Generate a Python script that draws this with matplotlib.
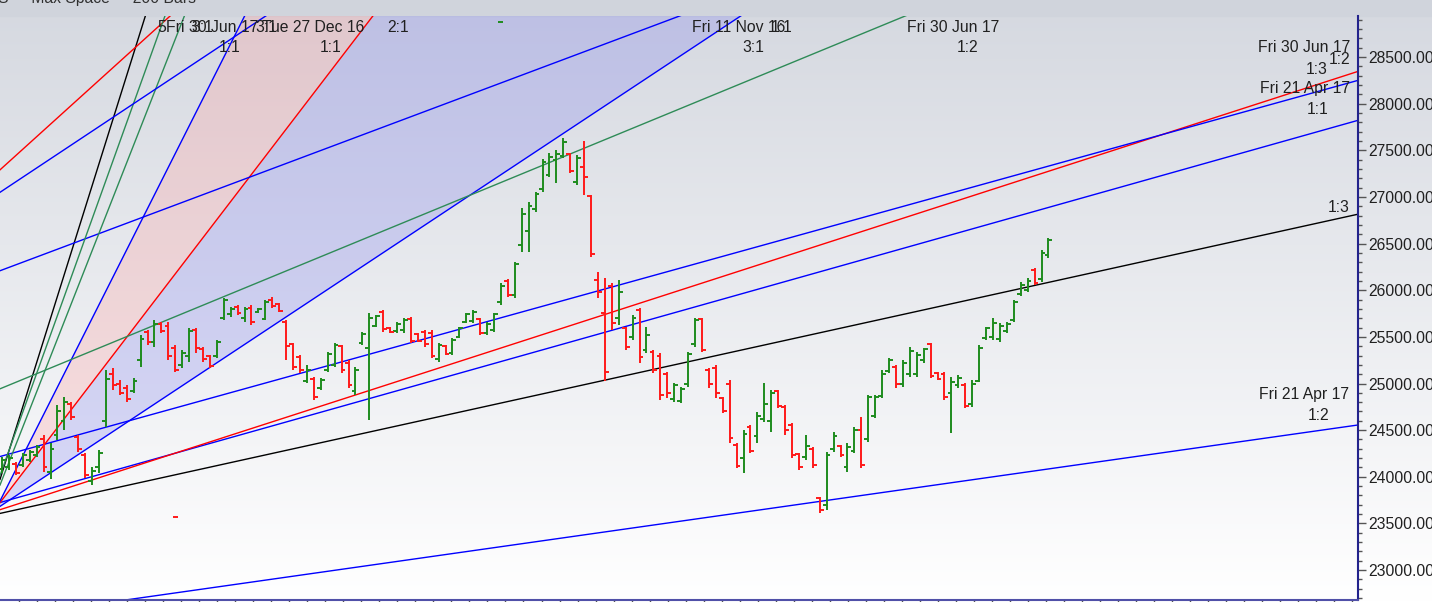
import numpy as np
import matplotlib.pyplot as plt
from matplotlib.patches import Rectangle
from matplotlib.ticker import MultipleLocator, FormatStrFormatter

plt.rcParams['font.family'] = ['Liberation Sans', 'DejaVu Sans']

# daily OHLC bars, oldest first
opens = [24080, 24100, 24140, 24130, 24180, 24230, 24400, 24050, 24450, 24600, 24780, 24430, 24230, 23960, 24100,
         24600, 25100, 25000, 24950, 24920, 25250, 25550, 25450, 25640, 25620, 25380, 25200, 25300, 25570, 25370,
         25290, 25300, 25700, 25740, 25820, 25700, 25810, 25770, 25690, 25900, 25850, 25660, 25420, 25280, 25030, 25050,
         24950, 25150, 25200, 25400, 25220, 24920, 25430, 25380, 25620, 25770, 25600, 25560, 25570, 25690, 25530,
         25550, 25540, 25260, 25400, 25330, 25500, 25660, 25670, 25690, 25540, 25570, 25870, 26100, 25950,
         26480, 26640, 26870, 27080, 27240, 27400, 27440, 27460, 27160, 27320, 27010, 26110, 25760, 26050, 25700,
         25590, 25500, 25790, 25360, 25340, 25300, 25100, 24830,
         24810, 25000, 25420, 25690, 25150, 25170, 24840, 25000, 24340, 24200, 24530, 24440, 24620, 24600, 24920,
         24750, 24550, 24240, 24210, 24300, 23770, 23700, 24300, 24330, 24100, 24280, 24500, 24400, 24650, 24870,
         25130, 25180, 25000, 25100, 25100, 25250, 25420, 25110, 25100, 24900, 24980, 24980, 24780, 25030, 25490,
         25500, 25480, 25560, 25680, 25960, 26000, 26220, 26120, 26380]
highs = [24212, 24233, 24158, 24255, 24287, 24341, 24448, 24362, 24769, 24855, 24801, 24448, 24255, 24105, 24287,
         25145, 25166, 25037, 24984, 25059, 25520, 25573, 25681, 25659, 25659, 25413, 25359, 25595, 25595, 25391,
         25305, 25466, 25917, 25820, 25841, 25820, 25841, 25809, 25894, 25927, 25862, 25681, 25434, 25305, 25198, 25069,
         25059, 25338, 25434, 25413, 25252, 25177, 25552, 25756, 25734, 25788, 25606, 25659, 25702, 25713, 25541,
         25573, 25573, 25434, 25413, 25488, 25606, 25756, 25788, 25702, 25659, 25756, 26077, 26120, 26302,
         26881, 26946, 27053, 27407, 27471, 27503, 27632, 27471, 27449, 27600, 27021, 26195, 26131, 26077, 26109,
         25606, 25734, 25809, 25606, 25359, 25327, 25123, 25005,
         24962, 25338, 25702, 25702, 25166, 25198, 24855, 25037, 24362, 24501, 24555, 24694, 25005, 24930, 24930,
         24769, 24576, 24255, 24448, 24319, 23783, 24266, 24480, 24341, 24362, 24534, 24641, 24877, 24877, 25145,
         25273, 25198, 25252, 25391, 25338, 25380, 25434, 25123, 25123, 25069, 25091, 25005, 25037, 25413, 25606,
         25702, 25648, 25659, 25894, 26088, 26131, 26238, 26432, 26560]
lows = [24040, 24072, 24019, 24105, 24158, 24212, 24051, 23976, 24394, 24501, 24609, 24266, 23987, 23912, 24040,
        24534, 24930, 24877, 24801, 24898, 25177, 25413, 25391, 25541, 25252, 25123, 25166, 25230, 25327, 25230,
        25166, 25273, 25681, 25713, 25734, 25659, 25627, 25755, 25681, 25809, 25766, 25252, 25145, 25112, 25005, 24823,
        24930, 25123, 25177, 25112, 24952, 24877, 25413, 24609, 25606, 25552, 25541, 25541, 25541, 25434, 25445,
        25391, 25273, 25230, 25305, 25305, 25488, 25648, 25648, 25520, 25520, 25552, 25841, 25927, 25917,
        26410, 26410, 26838, 27053, 27214, 27149, 27417, 27257, 27128, 27021, 26356, 25917, 25027, 25573, 25627,
        25359, 25466, 25220, 25327, 25112, 24823, 24844, 24801,
        24791, 24962, 25391, 25338, 24952, 24844, 24684, 24362, 24094, 24040, 24255, 24362, 24587, 24480, 24737,
        24448, 24201, 24073, 24180, 24094, 23612, 23644, 24266, 24212, 24051, 24255, 24094, 24373, 24630, 24845,
        25112, 24952, 24962, 25069, 25069, 25220, 25059, 25037, 24823, 24469, 24952, 24737, 24748, 25016, 25466,
        25466, 25445, 25541, 25659, 25938, 25981, 26056, 26088, 26345]
closes = [24180, 24200, 24040, 24230, 24270, 24320, 24100, 24300, 24700, 24800, 24640, 24300, 24020, 24060, 24250,
          25050, 24980, 24900, 24830, 25030, 25480, 25440, 25640, 25560, 25300, 25150, 25330, 25560, 25380, 25260,
          25190, 25440, 25900, 25800, 25760, 25800, 25660, 25800, 25870, 25830, 25780, 25400, 25180, 25140, 25150, 24850,
          25040, 25320, 25410, 25140, 24980, 25150, 25530, 25700, 25720, 25580, 25550, 25640, 25680, 25460, 25460,
          25420, 25300, 25410, 25320, 25470, 25590, 25740, 25770, 25540, 25640, 25740, 26050, 25950, 26280,
          26820, 26900, 27030, 27380, 27430, 27460, 27590, 27280, 27420, 27210, 26390, 25980, 25120, 25650, 25980,
          25390, 25700, 25280, 25520, 25150, 24880, 24900, 24980,
          24940, 25320, 25680, 25360, 25000, 24900, 24700, 24420, 24120, 24460, 24280, 24650, 24780, 24900, 24760,
          24500, 24230, 24100, 24330, 24130, 23640, 24230, 24440, 24230, 24320, 24500, 24130, 24850, 24860, 25100,
          25250, 24990, 25220, 25350, 25310, 25370, 25080, 25050, 24850, 25020, 25060, 24760, 25000, 25380, 25590,
          25650, 25620, 25640, 25870, 26060, 26100, 26080, 26400, 26540]

# gann fan lines: price at bar 0 and rise in points per bar
fan_start = [23612, 23730, 23654, 24223, 22491, 23697, 23751, 23783, 24040, 27310, 26217, 24952, 23966, 24073, 27064]
fan_slope = [16.37, 20.91, 23.98, 20.58, 10.55, 49.19, 96.97, 147.3, 236.9, 67.2, 27.85, 30.6, 189.0, 207.0, 49.3]
fan_color = ['black', 'blue', 'red', 'blue', 'blue', 'blue', 'red', 'blue', 'black', 'red', 'blue',
             'seagreen', 'seagreen', 'seagreen', 'blue']

W, H = 1432, 602
fig = plt.figure(figsize=(W / 100, H / 100), dpi=100)

# background gradient + header band
bg = fig.add_axes([0, 0, 1, 1], zorder=-2)
top = np.array([0.835, 0.848, 0.878])
grad = np.linspace(0, 1, 256)[:, None, None] * (1 - top) + top
bg.imshow(grad, aspect='auto', extent=[0, 1, 0, 1])
bg.add_patch(Rectangle((0, 1 - 16 / H), 1, 16 / H, color='#d0d4dc', transform=bg.transAxes))
bg.set_xlim(0, 1)
bg.set_ylim(0, 1)
bg.axis('off')

ax = fig.add_axes([0, 2 / H, 1358 / W, 584 / H])
ax.set_facecolor('none')
px_bar = 6.93
x_left, x_right = -2 / px_bar, 1356 / px_bar
ax.set_xlim(x_left, x_right)
ax.set_ylim(22679, 28940)

bars = np.arange(len(opens))
cols = ['#1e8c1e' if c >= o else '#ff1a1a' for o, c in zip(opens, closes)]

# shaded zones between fan lines
xs = np.array([x_left, x_right])
line = lambda k: fan_start[k] + fan_slope[k] * xs
ax.fill_between(xs, line(5), line(6), color=(0.47, 0.47, 0.94), alpha=0.25, lw=0, zorder=1)
ax.fill_between(xs, line(6), line(7), color=(1.0, 0.59, 0.59), alpha=0.26, lw=0, zorder=1)

for k in range(len(fan_start)):
    ax.plot(xs, line(k), color=fan_color[k], lw=1.0, zorder=2)

ax.vlines(bars, lows, highs, colors=cols, lw=1.4, zorder=3)
ax.hlines(opens, bars - 0.55, bars, colors=cols, lw=1.4, zorder=3)
ax.hlines(closes, bars, bars + 0.55, colors=cols, lw=1.4, zorder=3)

# little anchor dashes
ax.hlines([28875], [71.6], [72.3], colors='#1e8c1e', lw=1.4)
ax.hlines([23569], [24.7], [25.4], colors='#ff1a1a', lw=1.4)

# fan labels
fs = 11.3
labels = [("5", 157, 27, 'left'), ("Fri 30 Jun 17", 166, 27, 'left'), ("3:1", 191, 27, 'left'),
          ("3:1", 255, 27, 'left'), ("Tue 27 Dec 16", 262, 27, 'left'), ("2:1", 387, 27, 'left'),
          ("1:1", 219, 47, 'left'), ("1:1", 320, 47, 'left'),
          ("Fri 11 Nov 16", 692, 27, 'left'), ("1:1", 771, 27, 'left'), ("3:1", 742, 47, 'left'),
          ("Fri 30 Jun 17", 907, 27, 'left'), ("1:2", 957, 47, 'left'),
          ("Fri 30 Jun 17", 1350, 48, 'right'), ("1:2", 1350, 60, 'right'), ("1:3", 1328, 69, 'right'),
          ("Fri 21 Apr 17", 1350, 89, 'right'), ("1:1", 1328, 109, 'right'), ("1:3", 1350, 207, 'right'),
          ("Fri 21 Apr 17", 1349, 395, 'right'), ("1:2", 1329, 416, 'right')]
for s, x, y, ha in labels:
    fig.text(x / W, 1 - y / H, s, ha=ha, va='center', fontsize=fs, color='#202020')

fig.text(-2 / W, 1 - 3 / H, "S  -  Max Space  -  200 Bars", ha='left', va='baseline',
         fontsize=fs, color='#303030')

# axes look
ax.spines['left'].set_visible(False)
ax.spines['top'].set_visible(False)
ax.spines['right'].set_color('#23238c')
ax.spines['right'].set_linewidth(1.5)
ax.spines['bottom'].set_color('#5050a8')
ax.spines['bottom'].set_linewidth(1.5)
ax.yaxis.tick_right()
ax.yaxis.set_major_locator(MultipleLocator(500))
ax.yaxis.set_minor_locator(MultipleLocator(100))
ax.yaxis.set_major_formatter(FormatStrFormatter('%.2f'))
ax.tick_params(axis='y', which='major', length=6, width=1, color='#555555',
               labelsize=fs, labelcolor='#202020', pad=1.5)
ax.tick_params(axis='y', which='minor', length=3, width=1, color='#555555')
ax.set_xticks(np.arange(2.45, x_right, 2.6))
ax.set_xticklabels([])
ax.tick_params(axis='x', length=2, width=1, color='#555555')

plt.savefig('out.png', dpi=100)
